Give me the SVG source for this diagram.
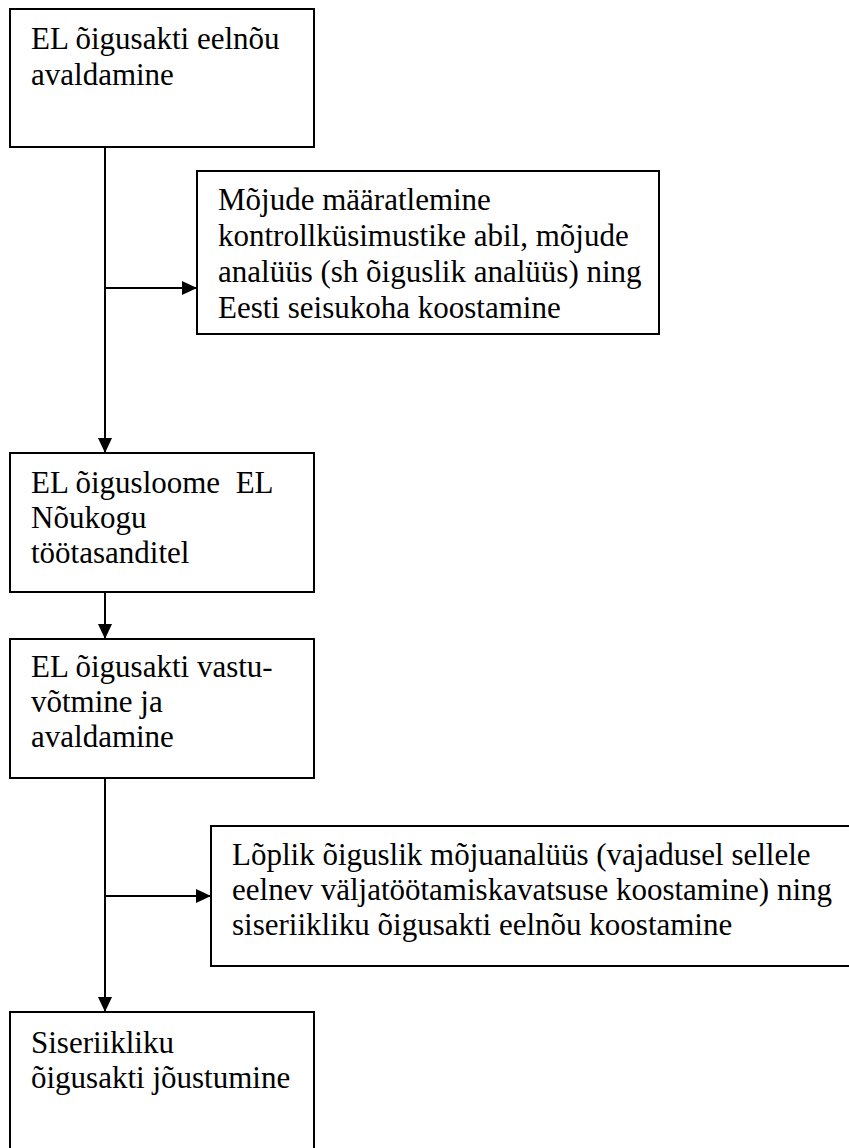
<svg xmlns="http://www.w3.org/2000/svg" width="849" height="1148" viewBox="0 0 849 1148">
<style>
.box{fill:#fff;stroke:#000;stroke-width:2}
.t{font-family:"Liberation Serif","Times New Roman",serif;font-size:31px;fill:#000;white-space:pre}
.c{stroke:#000;stroke-width:2;fill:none}
</style>
<defs>
<marker id="ah" markerWidth="15" markerHeight="14" refX="15" refY="7" orient="auto" markerUnits="userSpaceOnUse">
<path d="M0,0 L15,7 L0,14 Z" fill="#000"/>
</marker>
</defs>
<rect width="849" height="1148" fill="#fff"/>
<g id="connectors">
<line class="c" x1="105" y1="147" x2="105" y2="453" marker-end="url(#ah)"/>
<line class="c" x1="105" y1="288" x2="197" y2="288" marker-end="url(#ah)"/>
<line class="c" x1="105" y1="592" x2="105" y2="639" marker-end="url(#ah)"/>
<line class="c" x1="105" y1="778" x2="105" y2="1012" marker-end="url(#ah)"/>
<line class="c" x1="105" y1="896" x2="211" y2="896" marker-end="url(#ah)"/>
</g>
<g id="n1">
<rect class="box" x="10" y="9" width="304" height="138"/>
<text class="t" x="31" y="49">EL õigusakti eelnõu</text>
<text class="t" x="31" y="85">avaldamine</text>
</g>
<g id="n2">
<rect class="box" x="197" y="171" width="462" height="163"/>
<text class="t" x="218" y="210">Mõjude määratlemine</text>
<text class="t" x="218" y="246">kontrollküsimustike abil, mõjude</text>
<text class="t" x="218" y="282">analüüs (sh õiguslik analüüs) ning</text>
<text class="t" x="218" y="318">Eesti seisukoha koostamine</text>
</g>
<g id="n3">
<rect class="box" x="10" y="453" width="304" height="139"/>
<text class="t" x="31" y="493" xml:space="preserve">EL õigusloome  EL</text>
<text class="t" x="31" y="528">Nõukogu</text>
<text class="t" x="31" y="563">töötasanditel</text>
</g>
<g id="n4">
<rect class="box" x="10" y="639" width="304" height="139"/>
<text class="t" x="31" y="677">EL õigusakti vastu-</text>
<text class="t" x="31" y="712">võtmine ja</text>
<text class="t" x="31" y="747">avaldamine</text>
</g>
<g id="n5">
<rect class="box" x="211" y="826" width="660" height="140"/>
<text class="t" x="232" y="865">Lõplik õiguslik mõjuanalüüs (vajadusel sellele</text>
<text class="t" x="232" y="900">eelnev väljatöötamiskavatsuse koostamine) ning</text>
<text class="t" x="232" y="935">siseriikliku õigusakti eelnõu koostamine</text>
</g>
<g id="n6">
<rect class="box" x="10" y="1012" width="304" height="160"/>
<text class="t" x="31" y="1053">Siseriikliku</text>
<text class="t" x="31" y="1088">õigusakti jõustumine</text>
</g>
</svg>
